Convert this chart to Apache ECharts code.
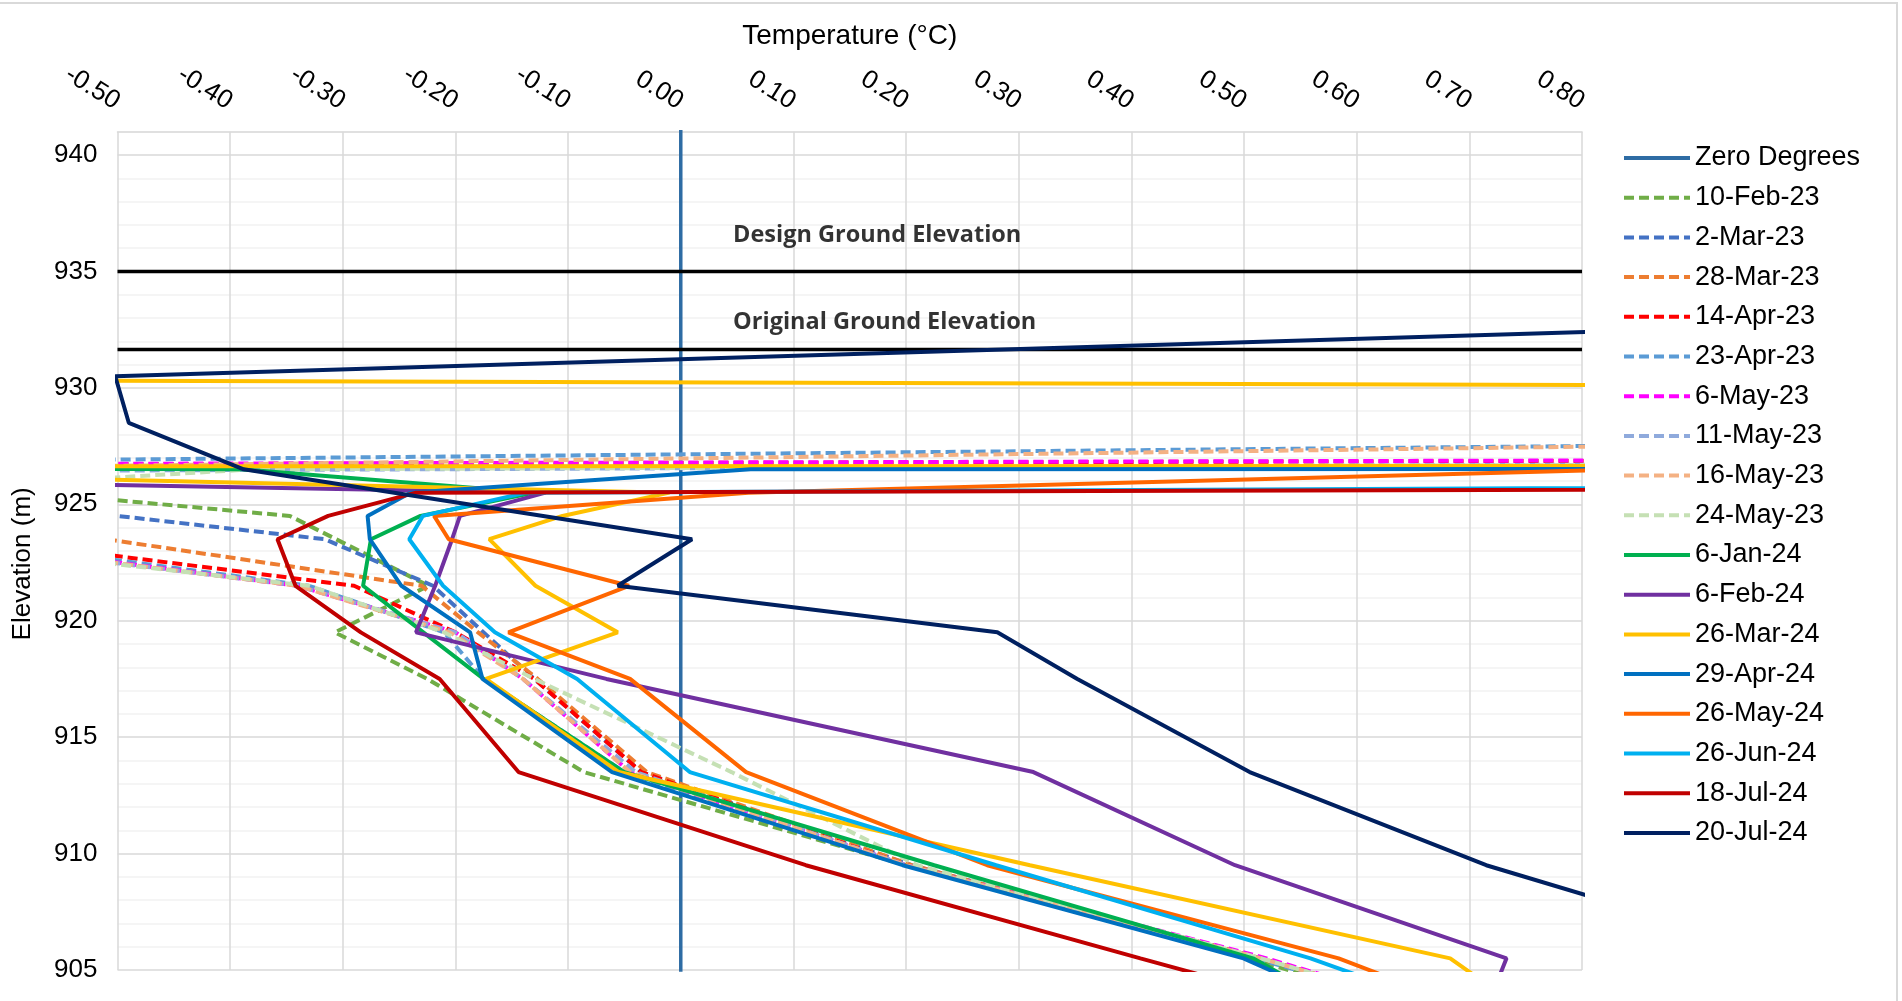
<!DOCTYPE html>
<html><head><meta charset="utf-8">
<script src="https://cdn.jsdelivr.net/npm/echarts@6/dist/echarts.min.js"></script>
<style>html,body{margin:0;padding:0;background:#fff}#c{width:1902px;height:1001px}</style>
</head><body><div id="c"></div>
<script>
// ---------- axis ranges / ticks ----------
const xMin = -0.5, xMax = 0.8, xStep = 0.1;
const yMin = 905, yMax = 941, yStep = 1;
const yLabelValues = [905, 910, 915, 920, 925, 930, 935, 940];

// ---------- reference lines ----------
const zeroTemp = [0, 0];
const zeroElev = [900, 945];
const designGroundElev = 935;
const originalGroundElev = 931.65;
const designLabelPos = [0.046, 936.55];
const originalLabelPos = [0.046, 932.8];

// ---------- series names ----------
const seriesNames = ['10-Feb-23','2-Mar-23','28-Mar-23','14-Apr-23','23-Apr-23','6-May-23','11-May-23','16-May-23','24-May-23',
  '6-Jan-24','6-Feb-24','26-Mar-24','29-Apr-24','26-May-24','26-Jun-24','18-Jul-24','20-Jul-24'];

// ---------- profiles: temperature (°C) and elevation (m) ----------
const t_10Feb23 = [-5.0, -0.575, -0.347, -0.306, -0.224, -0.307, -0.225, -0.086, 0.20, 0.505, 0.78];
const e_10Feb23 = [926.5, 925.5, 924.5, 923.5, 921.5, 919.5, 917.5, 913.5, 909.5, 905.5, 901.5];

const t_2Mar23 = [-3.0, -0.68, -0.50, -0.316, -0.22, -0.175, -0.13, -0.035, 0.205, 0.515, 0.80];
const e_2Mar23 = [926.5, 925.5, 924.5, 923.5, 921.5, 919.5, 917.5, 913.5, 909.5, 905.5, 901.5];

const t_28Mar23 = [-2.0, -0.9, -0.51, -0.23, -0.18, -0.127, -0.03, 0.205, 0.515, 0.80];
const e_28Mar23 = [925.5, 924.5, 923.5, 921.5, 919.5, 917.5, 913.5, 909.5, 905.5, 901.5];

const t_14Apr23 = [6.7, -2.54, -1.5, -1.0, -0.62, -0.29, -0.20, -0.13, -0.035, 0.20, 0.515, 0.80];
const e_14Apr23 = [927.5, 926.5, 925.5, 924.5, 923.5, 921.5, 919.5, 917.5, 913.5, 909.5, 905.5, 901.5];

const t_23Apr23 = [3.04, -1.44, -1.0, -0.8, -0.64, -0.33, -0.21, -0.175, -0.05, 0.20, 0.51, 0.80];
const e_23Apr23 = [928.5, 926.5, 925.5, 924.5, 923.5, 921.5, 919.5, 917.5, 913.5, 909.5, 905.5, 901.5];

const t_6May23 = [6.54, -2.72, -1.6, -1.0, -0.66, -0.34, -0.20, -0.14, -0.045, 0.20, 0.52, 0.80];
const e_6May23 = [927.5, 926.5, 925.5, 924.5, 923.5, 921.5, 919.5, 917.5, 913.5, 909.5, 905.5, 901.5];

const t_11May23 = [4.97, -5.45, -1.0, -0.67, -0.34, -0.20, -0.14, -0.04, 0.20, 0.515, 0.80];
const e_11May23 = [927.5, 925.5, 924.5, 923.5, 921.5, 919.5, 917.5, 913.5, 909.5, 905.5, 901.5];

const t_16May23 = [2.43, -0.74, -0.9, -0.8, -0.67, -0.34, -0.205, -0.14, -0.045, 0.20, 0.515, 0.80];
const e_16May23 = [928.5, 926.5, 925.5, 924.5, 923.5, 921.5, 919.5, 917.5, 913.5, 909.5, 905.5, 901.5];

const t_24May23 = [6.0, -0.38, -0.73, -0.8, -0.70, -0.33, -0.21, -0.13, 0.045, 0.21, 0.515, 0.80];
const e_24May23 = [927.5, 926.5, 925.5, 924.5, 923.5, 921.5, 919.5, 917.5, 913.5, 909.5, 905.5, 901.5];

const t_6Jan24 = [-8.0, -0.39, -0.13, -0.231, -0.275, -0.282, -0.2285, -0.175, -0.05, 0.225, 0.508, 0.655];
const e_6Jan24 = [927.5, 926.5, 925.5, 924.5, 923.5, 921.5, 919.5, 917.5, 913.5, 909.5, 905.5, 901.5];

const t_6Feb24 = [-1.27, -0.12, -0.196, -0.203, -0.218, -0.235, -0.066, 0.313, 0.492, 0.733, 0.70];
const e_6Feb24 = [926.5, 925.5, 924.5, 923.5, 921.5, 919.5, 917.5, 913.5, 909.5, 905.5, 901.5];

const t_26Mar24 = [-1.9, 5.3, 5.3, -3.0, -0.9, -0.01, -0.105, -0.17, -0.129, -0.056, -0.173, -0.055, 0.31, 0.683, 0.80];
const e_26Mar24 = [930.5, 929.5, 926.7, 926.6, 926.5, 925.5, 924.5, 923.5, 921.5, 919.5, 917.5, 913.5, 909.5, 905.5, 901.5];

const t_29Apr24 = [6.0, 0.062, -0.24, -0.278, -0.276, -0.248, -0.187, -0.176, -0.061, 0.197, 0.4995, 0.685];
const e_29Apr24 = [926.6, 926.5, 925.5, 924.5, 923.5, 921.5, 919.5, 917.5, 913.5, 909.5, 905.5, 901.5];

const t_26May24 = [4.0, 0.84, 0.06, -0.219, -0.206, -0.046, -0.153, -0.045, 0.058, 0.272, 0.584, 0.80];
const e_26May24 = [927.5, 926.5, 925.5, 924.5, 923.5, 921.5, 919.5, 917.5, 913.5, 909.5, 905.5, 901.5];

const t_26Jun24 = [4.6, -0.137, -0.229, -0.241, -0.211, -0.165, -0.092, 0.008, 0.28, 0.559, 0.79];
const e_26Jun24 = [926.5, 925.5, 924.5, 923.5, 921.5, 919.5, 917.5, 913.5, 909.5, 905.5, 901.5];

const t_18Jul24 = [7.8, -0.235, -0.313, -0.358, -0.342, -0.284, -0.214, -0.144, 0.111, 0.408, 0.71];
const e_18Jul24 = [926.5, 925.5, 924.5, 923.5, 921.5, 919.5, 917.5, 913.5, 909.5, 905.5, 901.5];

const t_20Jul24 = [0.87, -0.502, -0.49, -0.388, 0.01, -0.056, 0.281, 0.352, 0.505, 0.715, 0.99];
const e_20Jul24 = [932.5, 930.5, 928.5, 926.5, 923.5, 921.5, 919.5, 917.5, 913.5, 909.5, 905.5];

// ---------- build ----------
const profiles = [
  [t_10Feb23, e_10Feb23, '#70AD47', true],
  [t_2Mar23, e_2Mar23, '#4472C4', true],
  [t_28Mar23, e_28Mar23, '#ED7D31', true],
  [t_14Apr23, e_14Apr23, '#FF0000', true],
  [t_23Apr23, e_23Apr23, '#5B9BD5', true],
  [t_6May23, e_6May23, '#FF00FF', true],
  [t_11May23, e_11May23, '#8FAADC', true],
  [t_16May23, e_16May23, '#F4B183', true],
  [t_24May23, e_24May23, '#C5E0B4', true],
  [t_6Jan24, e_6Jan24, '#00B050', false],
  [t_6Feb24, e_6Feb24, '#7030A0', false],
  [t_26Mar24, e_26Mar24, '#FFC000', false],
  [t_29Apr24, e_29Apr24, '#0070C0', false],
  [t_26May24, e_26May24, '#FF6600', false],
  [t_26Jun24, e_26Jun24, '#00B0F0', false],
  [t_18Jul24, e_18Jul24, '#C00000', false],
  [t_20Jul24, e_20Jul24, '#002060', false]
];
const zip = (t, e) => t.map((v, i) => [v, e[i]]);
const FONT = 'Liberation Sans, Arial, sans-serif';
const LW = 4;

const series = [];
series.push({
  name: 'Zero Degrees', type: 'line', data: zip(zeroTemp, zeroElev), symbol: 'none', showSymbol: false,
  lineStyle: { color: '#2E6CA4', width: 3.5 }, itemStyle: { color: '#2E6CA4' }, z: 2
});
series.push({
  name: 'Design Ground Elevation', type: 'line', data: [[xMin, designGroundElev], [xMax, designGroundElev]], symbol: 'none',
  lineStyle: { color: '#000', width: 3.5 }, itemStyle: { color: '#000' }, z: 2
});
series.push({
  name: 'Original Ground Elevation', type: 'line', data: [[xMin, originalGroundElev], [xMax, originalGroundElev]], symbol: 'none',
  lineStyle: { color: '#000', width: 3.5 }, itemStyle: { color: '#000' }, z: 2
});
profiles.forEach((p, i) => {
  series.push({
    name: seriesNames[i], type: 'line', data: zip(p[0], p[1]), symbol: 'none', showSymbol: false, clip: true,
    lineStyle: { color: p[2], width: LW, type: p[3] ? [10, 5] : 'solid' },
    itemStyle: { color: p[2] }, z: 3 + i
  });
});
series.push({
  name: 'labels', type: 'scatter', symbol: 'circle', symbolSize: 1, z: 50,
  itemStyle: { color: 'rgba(0,0,0,0)' },
  data: [
    { value: designLabelPos, label: { formatter: 'Design Ground Elevation' } },
    { value: originalLabelPos, label: { formatter: 'Original Ground Elevation' } }
  ],
  label: { show: true, position: 'right', distance: 0, fontFamily: 'Open Sans', fontWeight: 'bold', fontSize: 23.5, color: '#000' },
  silent: true
});

const chart = echarts.init(document.getElementById('c'), null, { renderer: 'canvas' });
chart.setOption({
  animation: false,
  backgroundColor: '#fff',
  textStyle: { fontFamily: FONT },
  graphic: [{ type: 'rect', shape: { x: -2, y: 3, width: 1899, height: 1010 }, style: { fill: 'none', stroke: '#D9D9D9', lineWidth: 2 }, silent: true }],
  grid: { left: 117.5, right: 320, top: 131.7, bottom: 31 },
  legend: {
    orient: 'vertical', left: 1617, top: 139.5, itemWidth: 66, itemHeight: 14, itemGap: 12.7,
    itemStyle: { opacity: 0 },
    lineStyle: { width: 4 },
    textStyle: { fontSize: 27, color: '#000', fontFamily: FONT },
    data: ['Zero Degrees'].concat(seriesNames)
  },
  xAxis: {
    type: 'value', position: 'top', min: xMin, max: xMax, interval: xStep,
    name: 'Temperature (°C)', nameLocation: 'middle', nameGap: 81,
    nameTextStyle: { fontSize: 28, color: '#000', fontFamily: FONT },
    axisLine: { show: true, lineStyle: { color: '#D9D9D9', width: 1.5 } },
    axisTick: { show: false },
    axisLabel: { rotate: 32, margin: 28, fontSize: 26, color: '#000', fontFamily: FONT,
      formatter: v => (Math.abs(v) < 1e-9 ? 0 : v).toFixed(2) },
    splitLine: { show: true, lineStyle: { color: '#D9D9D9', width: 1.5 } }
  },
  yAxis: {
    type: 'value', min: yMin, max: yMax, interval: yStep,
    name: 'Elevation (m)', nameLocation: 'middle', nameGap: 82,
    nameTextStyle: { fontSize: 26, color: '#000', fontFamily: FONT, padding: [0, 26, 0, 0] },
    axisLine: { show: true, lineStyle: { color: '#D9D9D9', width: 1.5 } },
    axisTick: { show: false },
    axisLabel: { margin: 20, fontSize: 26, color: '#000', fontFamily: FONT,
      formatter: v => (yLabelValues.indexOf(Math.round(v)) >= 0 && Math.abs(v - Math.round(v)) < 1e-6) ? String(Math.round(v)) : '' },
    splitLine: { show: true, lineStyle: { color: ['#D9D9D9', '#F2F2F2', '#F2F2F2', '#F2F2F2', '#F2F2F2'], width: 1.5 } }
  },
  series: series
});
</script>
</body></html>
